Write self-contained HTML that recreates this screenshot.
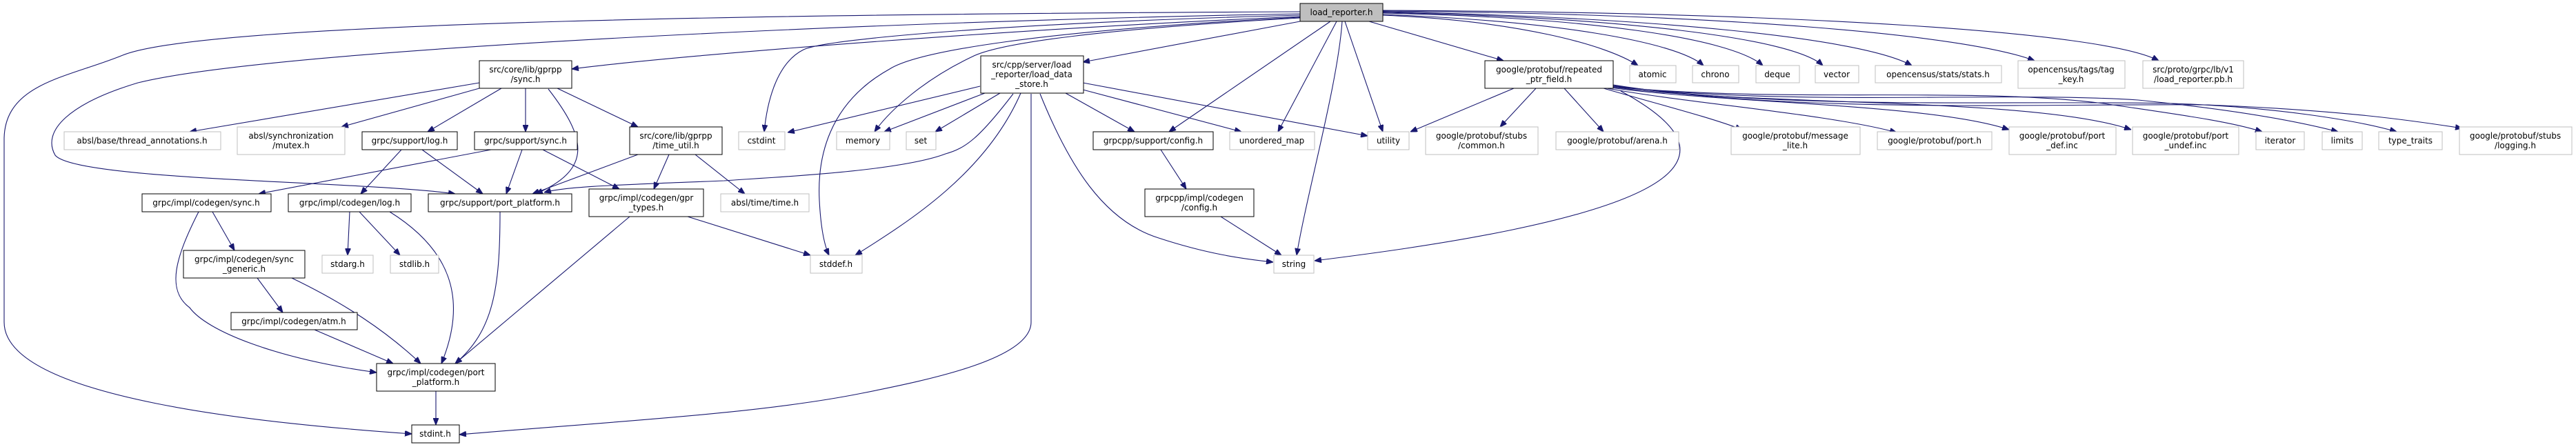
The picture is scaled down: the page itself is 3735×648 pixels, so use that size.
<!DOCTYPE html>
<html><head><meta charset="utf-8"><style>
html,body{margin:0;padding:0;background:#fff;}
svg{display:block;}
text{font-family:"DejaVu Sans","Liberation Sans",sans-serif;font-size:12px;fill:#000;text-anchor:middle;}
.e{fill:none;stroke:#191970;stroke-width:1.1;}
.n{fill:#fff;stroke:#000;stroke-width:1;}
.g{fill:#fff;stroke:#bfbfbf;stroke-width:1;}
</style></head><body>
<svg width="3735" height="648" viewBox="0 0 3735 648" xmlns="http://www.w3.org/2000/svg">
<defs><marker id="a" markerWidth="10" markerHeight="8" refX="10" refY="4" orient="auto" markerUnits="userSpaceOnUse"><path d="M0,0 L10,4 L0,8 z" fill="#191970" stroke="#191970"/></marker></defs>
<g class="e" marker-end="url(#a)">
<path d="M1885,17 C1200,20 300,30 178,80 C100,112 8,120 6,200 L6,467 C6,580 400,615 597,629"/>
<path d="M1885,20 C1300,30 400,70 200,120 C100,150 60,190 80,225 C110,262 520,262 660,281"/>
<path d="M1885,24 C1500,40 1000,78 829,100"/>
<path d="M1885,22 C1500,32 1200,55 1165,72 C1125,92 1112,150 1108,191"/>
<path d="M1885,26 C1600,42 1450,62 1410,82 C1340,115 1290,160 1268,191"/>
<path d="M1885,25 C1500,45 1330,75 1290,100 C1200,150 1185,230 1188,290 C1190,330 1195,355 1202,370"/>
<path d="M1885,31 L1570,90"/>
<path d="M1929,31 L1695,191"/>
<path d="M1938,31 L1853,191"/>
<path d="M1946,31 C1940,120 1895,280 1880,370"/>
<path d="M1950,31 L2005,191"/>
<path d="M1985,31 L2180,88"/>
<path d="M2004,22 C2200,30 2330,65 2375,95"/>
<path d="M2004,21 C2250,30 2430,60 2470,95"/>
<path d="M2004,19 C2300,25 2510,55 2556,95"/>
<path d="M2004,18 C2350,25 2600,55 2643,95"/>
<path d="M2004,17 C2400,25 2700,55 2772,95"/>
<path d="M2004,16 C2500,20 2850,50 2950,88"/>
<path d="M2004,15 C2600,18 3050,45 3130,88"/>
<path d="M695,120 L275,191"/>
<path d="M695,128 L495,184"/>
<path d="M727,128 L620,191"/>
<path d="M762,128 L762,191"/>
<path d="M795,129 C850,200 860,245 777,281"/>
<path d="M808,128 L925,184"/>
<path d="M582,217 L523,281"/>
<path d="M612,217 L700,281"/>
<path d="M712,217 L375,281"/>
<path d="M757,217 L734,281"/>
<path d="M787,217 L898,274"/>
<path d="M925,224 L772,281"/>
<path d="M970,224 L948,274"/>
<path d="M1008,224 L1080,281"/>
<path d="M308,307 L340,363"/>
<path d="M288,307 C255,372 240,420 275,446 C300,480 400,520 546,540"/>
<path d="M507,307 L504,370"/>
<path d="M521,307 L580,370"/>
<path d="M565,307 C650,360 680,430 640,527"/>
<path d="M725,307 C725,420 715,480 660,527"/>
<path d="M913,314 L660,527"/>
<path d="M997,314 L1175,370"/>
<path d="M373,403 L410,453"/>
<path d="M423,403 C500,440 560,480 610,527"/>
<path d="M456,478 L570,527"/>
<path d="M632,567 L632,616"/>
<path d="M1421,125 L1142,192"/>
<path d="M1428,135 L1282,191"/>
<path d="M1450,135 L1356,191"/>
<path d="M1469,136 C1420,200 1400,215 1371,223 C1300,250 1100,258 1050,262 C900,268 820,270 789,279"/>
<path d="M1480,135 C1430,250 1320,320 1240,370"/>
<path d="M1495,136 L1495,467 C1495,520 1350,550 1250,570 C1100,600 900,610 666,630"/>
<path d="M1508,136 C1550,240 1600,320 1680,345 C1750,368 1800,375 1846,380"/>
<path d="M1545,135 L1645,191"/>
<path d="M1570,130 L1800,191"/>
<path d="M1570,120 L1983,197"/>
<path d="M1683,217 L1720,274"/>
<path d="M1770,314 L1858,370"/>
<path d="M2195,128 L2045,191"/>
<path d="M2227,128 L2175,184"/>
<path d="M2268,128 L2325,191"/>
<path d="M2350,132 C2420,170 2460,210 2420,250 C2350,320 2050,360 1906,378"/>
<path d="M2325,128 C2400,150 2480,170 2526,188"/>
<path d="M2330,128 C2450,150 2650,165 2750,192"/>
<path d="M2335,127 C2500,150 2800,150 2913,188"/>
<path d="M2337,126 C2550,155 2950,140 3090,188"/>
<path d="M2339,126 C2600,150 2850,125 3050,150 C3150,165 3230,175 3280,191"/>
<path d="M2339,125 C2600,155 2900,132 3100,145 C3250,160 3340,178 3390,191"/>
<path d="M2339,124 C2600,160 2900,145 3150,150 C3300,155 3420,175 3475,191"/>
<path d="M2339,123 C2600,165 2950,150 3200,152 C3400,160 3500,175 3570,186"/>
</g>
<rect x="1885" y="5" width="120" height="26" fill="#bfbfbf" stroke="#000"/><text x="1945" y="22">load_reporter.h</text>
<rect class="n" x="695" y="88" width="134" height="40"/><text x="762" y="105">src/core/lib/gprpp</text><text x="762" y="119">/sync.h</text>
<rect class="g" x="93" y="191" width="227" height="26"/><text x="206" y="208">absl/base/thread_annotations.h</text>
<rect class="g" x="344" y="184" width="156" height="40"/><text x="422" y="201">absl/synchronization</text><text x="422" y="215">/mutex.h</text>
<rect class="n" x="525" y="191" width="138" height="26"/><text x="594" y="208">grpc/support/log.h</text>
<rect class="n" x="688" y="191" width="149" height="26"/><text x="762" y="208">grpc/support/sync.h</text>
<rect class="n" x="913" y="184" width="134" height="40"/><text x="980" y="201">src/core/lib/gprpp</text><text x="980" y="215">/time_util.h</text>
<rect class="g" x="1071" y="191" width="67" height="26"/><text x="1104" y="208">cstdint</text>
<rect class="g" x="1213" y="191" width="77" height="26"/><text x="1251" y="208">memory</text>
<rect class="g" x="1314" y="191" width="43" height="26"/><text x="1335" y="208">set</text>
<rect class="n" x="1422" y="81" width="149" height="54"/><text x="1496" y="98">src/cpp/server/load</text><text x="1496" y="112">_reporter/load_data</text><text x="1496" y="126">_store.h</text>
<rect class="n" x="1585" y="191" width="174" height="26"/><text x="1672" y="208">grpcpp/support/config.h</text>
<rect class="g" x="1783" y="191" width="123" height="26"/><text x="1844" y="208">unordered_map</text>
<rect class="g" x="1983" y="191" width="60" height="26"/><text x="2013" y="208">utility</text>
<rect class="g" x="2067" y="184" width="163" height="40"/><text x="2148" y="201">google/protobuf/stubs</text><text x="2148" y="215">/common.h</text>
<rect class="g" x="2256" y="191" width="178" height="26"/><text x="2345" y="208">google/protobuf/arena.h</text>
<rect class="n" x="2153" y="88" width="186" height="40"/><text x="2246" y="105">google/protobuf/repeated</text><text x="2246" y="119">_ptr_field.h</text>
<rect class="g" x="2363" y="95" width="67" height="25"/><text x="2396" y="112">atomic</text>
<rect class="g" x="2454" y="95" width="67" height="25"/><text x="2487" y="112">chrono</text>
<rect class="g" x="2546" y="95" width="63" height="25"/><text x="2577" y="112">deque</text>
<rect class="g" x="2632" y="95" width="63" height="25"/><text x="2663" y="112">vector</text>
<rect class="g" x="2719" y="95" width="183" height="25"/><text x="2810" y="112">opencensus/stats/stats.h</text>
<rect class="g" x="2926" y="88" width="155" height="40"/><text x="3003" y="105">opencensus/tags/tag</text><text x="3003" y="119">_key.h</text>
<rect class="g" x="3107" y="88" width="146" height="40"/><text x="3180" y="105">src/proto/grpc/lb/v1</text><text x="3180" y="119">/load_reporter.pb.h</text>
<rect class="g" x="2510" y="184" width="187" height="40"/><text x="2603" y="201">google/protobuf/message</text><text x="2603" y="215">_lite.h</text>
<rect class="g" x="2722" y="191" width="166" height="26"/><text x="2805" y="208">google/protobuf/port.h</text>
<rect class="g" x="2913" y="184" width="155" height="40"/><text x="2990" y="201">google/protobuf/port</text><text x="2990" y="215">_def.inc</text>
<rect class="g" x="3092" y="184" width="154" height="40"/><text x="3169" y="201">google/protobuf/port</text><text x="3169" y="215">_undef.inc</text>
<rect class="g" x="3271" y="191" width="70" height="26"/><text x="3306" y="208">iterator</text>
<rect class="g" x="3367" y="191" width="58" height="26"/><text x="3396" y="208">limits</text>
<rect class="g" x="3449" y="191" width="92" height="26"/><text x="3495" y="208">type_traits</text>
<rect class="g" x="3566" y="184" width="163" height="40"/><text x="3647" y="201">google/protobuf/stubs</text><text x="3647" y="215">/logging.h</text>
<rect class="n" x="206" y="281" width="187" height="26"/><text x="299" y="298">grpc/impl/codegen/sync.h</text>
<rect class="n" x="418" y="281" width="178" height="26"/><text x="507" y="298">grpc/impl/codegen/log.h</text>
<rect class="n" x="621" y="281" width="208" height="26"/><text x="725" y="298">grpc/support/port_platform.h</text>
<rect class="n" x="854" y="274" width="166" height="40"/><text x="937" y="291">grpc/impl/codegen/gpr</text><text x="937" y="305">_types.h</text>
<rect class="g" x="1045" y="281" width="128" height="26"/><text x="1109" y="298">absl/time/time.h</text>
<rect class="n" x="1660" y="274" width="158" height="40"/><text x="1739" y="291">grpcpp/impl/codegen</text><text x="1739" y="305">/config.h</text>
<rect class="n" x="266" y="363" width="176" height="40"/><text x="354" y="380">grpc/impl/codegen/sync</text><text x="354" y="394">_generic.h</text>
<rect class="g" x="467" y="370" width="74" height="26"/><text x="504" y="387">stdarg.h</text>
<rect class="g" x="566" y="370" width="70" height="26"/><text x="601" y="387">stdlib.h</text>
<rect class="g" x="1175" y="370" width="75" height="26"/><text x="1212" y="387">stddef.h</text>
<rect class="g" x="1847" y="370" width="58" height="26"/><text x="1876" y="387">string</text>
<rect class="n" x="335" y="453" width="183" height="25"/><text x="426" y="470">grpc/impl/codegen/atm.h</text>
<rect class="n" x="546" y="527" width="172" height="40"/><text x="632" y="544">grpc/impl/codegen/port</text><text x="632" y="558">_platform.h</text>
<rect class="n" x="597" y="616" width="69" height="26"/><text x="631" y="633">stdint.h</text>
</svg>
</body></html>
